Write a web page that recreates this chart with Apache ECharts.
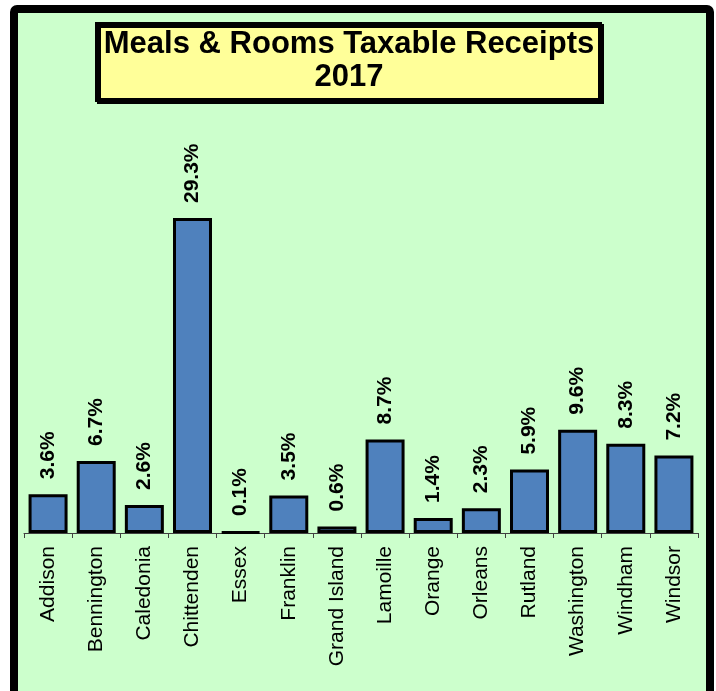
<!DOCTYPE html>
<html>
<head>
<meta charset="utf-8">
<script src="https://cdn.jsdelivr.net/npm/echarts@6/dist/echarts.min.js"></script>
<style>html,body{margin:0;padding:0;background:#fff}#c{width:716px;height:691px}</style>
</head>
<body>
<div id="c"></div>
<script>
const categories = ['Addison','Bennington','Caledonia','Chittenden','Essex','Franklin','Grand Island','Lamoille','Orange','Orleans','Rutland','Washington','Windham','Windsor'];
const shares = [3.6, 6.7, 2.6, 29.3, 0.1, 3.5, 0.6, 8.7, 1.4, 2.3, 5.9, 9.6, 8.3, 7.2];
const titleLines = ['Meals & Rooms Taxable Receipts', '2017'];

const FONT = '"Liberation Sans", Arial, sans-serif';
const chart = echarts.init(document.getElementById('c'), null, {renderer: 'canvas'});
chart.setOption({
  backgroundColor: '#ffffff',
  animation: false,
  graphic: [
    {type: 'rect', z: -10, shape: {x: 14, y: 9, width: 696, height: 700, r: 3},
     style: {fill: '#CCFFCC', stroke: '#000', lineWidth: 8}},
    {type: 'rect', z: 100, shape: {x: 97, y: 24, width: 503, height: 76},
     style: {fill: '#FFFF99', stroke: '#000', lineWidth: 4, shadowColor: '#000', shadowOffsetX: 2, shadowOffsetY: 2, shadowBlur: 0}},
    {type: 'text', z: 101, x: 349, y: 61,
     style: {text: titleLines.join('\n'), font: 'bold 31px ' + FONT, lineHeight: 33, fill: '#000', textAlign: 'center', textVerticalAlign: 'middle'}}
  ],
  grid: {left: 24, right: 18, top: 210.5, bottom: 158, containLabel: false},
  xAxis: {
    type: 'category', data: categories, boundaryGap: true,
    axisLine: {show: true, lineStyle: {color: '#404040', width: 1}},
    axisTick: {show: true, length: 5, lineStyle: {color: '#404040', width: 1}},
    axisLabel: {rotate: 90, margin: 13, fontFamily: FONT, fontSize: 21, color: '#000', interval: 0}
  },
  yAxis: {
    type: 'value', min: 0, max: 30, show: false,
    splitLine: {show: false}
  },
  series: [{
    type: 'bar', data: shares, barCategoryGap: '19%',
    itemStyle: {color: '#4F81BD', borderColor: '#000', borderWidth: 3},
    label: {show: true, position: 'top', rotate: 90, align: 'left', verticalAlign: 'middle', distance: 15,
      fontFamily: FONT, fontWeight: 'bold', fontSize: 21, color: '#000',
      formatter: p => p.value.toFixed(1) + '%'}
  }]
});
</script>
</body>
</html>
